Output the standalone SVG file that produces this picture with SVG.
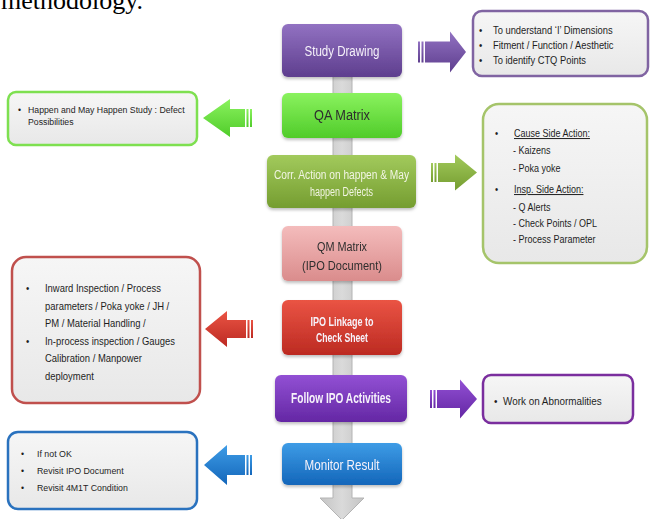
<svg xmlns="http://www.w3.org/2000/svg" width="651" height="519" viewBox="0 0 651 519">
<defs>
<linearGradient id="gPurple" x1="0" y1="0" x2="0" y2="1"><stop offset="0" stop-color="#9272C2"/><stop offset="1" stop-color="#5E3E8E"/></linearGradient>
<linearGradient id="gGreen" x1="0" y1="0" x2="0" y2="1"><stop offset="0" stop-color="#8AF25E"/><stop offset="1" stop-color="#50CC2A"/></linearGradient>
<linearGradient id="gOlive" x1="0" y1="0" x2="0" y2="1"><stop offset="0" stop-color="#A2CA5C"/><stop offset="1" stop-color="#759D30"/></linearGradient>
<linearGradient id="gPink" x1="0" y1="0" x2="0" y2="1"><stop offset="0" stop-color="#F4BCBC"/><stop offset="1" stop-color="#DA8C8C"/></linearGradient>
<linearGradient id="gRed" x1="0" y1="0" x2="0" y2="1"><stop offset="0" stop-color="#EA5444"/><stop offset="1" stop-color="#BC2A22"/></linearGradient>
<linearGradient id="gViolet" x1="0" y1="0" x2="0" y2="1"><stop offset="0" stop-color="#9250D4"/><stop offset="1" stop-color="#6427A4"/></linearGradient>
<linearGradient id="gBlue" x1="0" y1="0" x2="0" y2="1"><stop offset="0" stop-color="#3E9CE6"/><stop offset="1" stop-color="#1366BA"/></linearGradient>
<linearGradient id="gSide" x1="0" y1="0" x2="0" y2="1"><stop offset="0" stop-color="#F6F6F6"/><stop offset="1" stop-color="#E8E8E8"/></linearGradient>
<linearGradient id="gBar" x1="0" y1="0" x2="1" y2="0"><stop offset="0" stop-color="#C4C4C4"/><stop offset="0.5" stop-color="#DADADA"/><stop offset="1" stop-color="#C4C4C4"/></linearGradient>
<filter id="sh" x="-10%" y="-10%" width="120%" height="130%"><feDropShadow dx="0" dy="2" stdDeviation="1.5" flood-color="#000" flood-opacity="0.25"/></filter>
</defs>
<style>
.lbl{font-family:"Liberation Sans",Arial,sans-serif;font-size:14px;text-anchor:middle;fill:#F6F2FA}
.dk{fill:#2E2E2E}
.b{font-weight:bold}
.n{font-family:"Liberation Sans",Arial,sans-serif;fill:#1E1E1E}
.box{fill:url(#gSide);stroke-width:2.5}
.node{filter:url(#sh)}
.f1{font-size:10.4px}
.f2{font-size:9.7px}
.f3{font-size:10px}
.f4{font-size:10.5px}
.f5{font-size:11px}
.f6{font-size:9.8px}
</style>
<rect width="651" height="519" fill="#FFFFFF"/>
<text x="1" y="9" font-family="Liberation Serif, serif" font-size="26" fill="#000">methodology.</text>

<g id="connectors">
  <path d="M333,70 V498 H320 L342,520 L364,498 H352 V70 Z" fill="url(#gBar)" stroke="#B4B4B4" stroke-width="1"/>
  <g fill="url(#gPurple)">
    <rect x="418" y="41.5" width="2" height="21"/><rect x="421.5" y="41.5" width="2" height="21"/>
    <path d="M425,41.5 H450 V31.5 L466,52 L450,72.5 V62.5 H425 Z"/>
  </g>
  <g fill="url(#gGreen)">
    <rect x="250" y="109" width="2" height="18"/><rect x="246.5" y="109" width="2" height="18"/>
    <path d="M245,109 H230 V99 L203,118 L230,137 V127 H245 Z"/>
  </g>
  <g fill="url(#gOlive)">
    <rect x="431" y="163" width="2" height="19"/><rect x="434.5" y="163" width="2" height="19"/>
    <path d="M438,163 H455 V154.5 L477,172.5 L455,190.5 V182 H438 Z"/>
  </g>
  <g fill="url(#gRed)">
    <rect x="251" y="320" width="2" height="18"/><rect x="247.5" y="320" width="2" height="18"/>
    <path d="M246,320 H227 V311 L205,329 L227,347 V338 H246 Z"/>
  </g>
  <g fill="url(#gViolet)">
    <rect x="430" y="390" width="2" height="18"/><rect x="433.5" y="390" width="2" height="18"/>
    <path d="M437,390 H460 V379.5 L477,399 L460,418.5 V408 H437 Z"/>
  </g>
  <g fill="url(#gBlue)">
    <rect x="250" y="455" width="2" height="20"/><rect x="246.5" y="455" width="2" height="20"/>
    <path d="M245,455 H227 V445 L204,465 L227,485 V475 H245 Z"/>
  </g>
</g>

<g id="study-drawing" class="node">
  <rect x="282" y="24" width="120" height="53" rx="6" fill="url(#gPurple)"/>
  <text class="lbl" x="342" y="56" textLength="75" lengthAdjust="spacingAndGlyphs">Study Drawing</text>
</g>
<g id="qa-matrix" class="node">
  <rect x="282" y="93" width="120" height="45" rx="6" fill="url(#gGreen)"/>
  <text class="lbl dk" x="342" y="120" textLength="56" lengthAdjust="spacingAndGlyphs">QA Matrix</text>
</g>
<g id="corr-action" class="node">
  <rect x="267" y="155" width="149" height="53" rx="6" fill="url(#gOlive)"/>
  <text class="lbl" style="font-size:12px;fill:#F2F5E4" x="341.5" y="179" textLength="135" lengthAdjust="spacingAndGlyphs">Corr. Action on happen &amp; May</text>
  <text class="lbl" style="font-size:12px;fill:#F2F5E4" x="341.5" y="196" textLength="63" lengthAdjust="spacingAndGlyphs">happen Defects</text>
</g>
<g id="qm-matrix" class="node">
  <rect x="282" y="226" width="120" height="55" rx="6" fill="url(#gPink)"/>
  <text class="lbl dk" style="font-size:12.5px" x="342" y="251" textLength="50" lengthAdjust="spacingAndGlyphs">QM Matrix</text>
  <text class="lbl dk" style="font-size:12.5px" x="342" y="270" textLength="80" lengthAdjust="spacingAndGlyphs">(IPO Document)</text>
</g>
<g id="ipo-linkage" class="node">
  <rect x="282" y="300" width="120" height="55" rx="6" fill="url(#gRed)"/>
  <text class="lbl b" style="font-size:12px" x="342" y="326" textLength="63" lengthAdjust="spacingAndGlyphs">IPO Linkage to</text>
  <text class="lbl b" style="font-size:12px" x="342" y="342" textLength="52" lengthAdjust="spacingAndGlyphs">Check Sheet</text>
</g>
<g id="follow-ipo" class="node">
  <rect x="275" y="375" width="132" height="47" rx="6" fill="url(#gViolet)"/>
  <text class="lbl b" x="341" y="403" textLength="100" lengthAdjust="spacingAndGlyphs">Follow IPO Activities</text>
</g>
<g id="monitor-result" class="node">
  <rect x="282" y="443" width="120" height="42" rx="6" fill="url(#gBlue)"/>
  <text class="lbl" x="342" y="470" textLength="75" lengthAdjust="spacingAndGlyphs">Monitor Result</text>
</g>

<g id="note-study">
  <rect class="box" x="473" y="11" width="175" height="65" rx="9" stroke="#8064A2"/>
  <text class="n f1" transform="translate(479 34) scale(0.9 1)">•</text><text class="n f1" transform="translate(493 34) scale(0.9 1)">To understand ‘I’ Dimensions</text>
  <text class="n f1" transform="translate(479 49) scale(0.9 1)">•</text><text class="n f1" transform="translate(493 49) scale(0.9 1)">Fitment / Function / Aesthetic</text>
  <text class="n f1" transform="translate(479 64) scale(0.9 1)">•</text><text class="n f1" transform="translate(493 64) scale(0.9 1)">To identify CTQ Points</text>
</g>
<g id="note-qa">
  <rect class="box" x="8" y="92" width="189" height="53" rx="8" stroke="#7EE050"/>
  <text class="n f2" transform="translate(18 113) scale(0.9 1)">•</text><text class="n f2" transform="translate(28 113) scale(0.9 1)">Happen and May Happen Study : Defect</text>
  <text class="n f2" transform="translate(28 125) scale(0.9 1)">Possibilities</text>
</g>
<g id="note-corr">
  <rect class="box" x="483" y="104" width="164" height="159" rx="16" stroke="#A5C46A"/>
  <text class="n f3" transform="translate(495 137) scale(0.9 1)">•</text><text class="n f3" text-decoration="underline" transform="translate(514 137) scale(0.9 1)">Cause Side Action:</text>
  <text class="n f3" transform="translate(513 154) scale(0.9 1)">- Kaizens</text>
  <text class="n f3" transform="translate(513 172) scale(0.9 1)">- Poka yoke</text>
  <text class="n f3" transform="translate(495 193) scale(0.9 1)">•</text><text class="n f3" text-decoration="underline" transform="translate(514 193) scale(0.9 1)">Insp. Side Action:</text>
  <text class="n f3" transform="translate(513 211) scale(0.9 1)">- Q Alerts</text>
  <text class="n f3" transform="translate(513 227) scale(0.9 1)">- Check Points / OPL</text>
  <text class="n f3" transform="translate(513 243) scale(0.9 1)">- Process Parameter</text>
</g>
<g id="note-ipo">
  <rect class="box" x="12" y="257" width="188" height="146" rx="14" stroke="#C0504D"/>
  <text class="n f4" transform="translate(26 292) scale(0.9 1)">•</text><text class="n f4" transform="translate(45 292) scale(0.9 1)">Inward Inspection / Process</text>
  <text class="n f4" transform="translate(45 309.5) scale(0.9 1)">parameters / Poka yoke / JH /</text>
  <text class="n f4" transform="translate(45 327) scale(0.9 1)">PM / Material Handling /</text>
  <text class="n f4" transform="translate(26 344.5) scale(0.9 1)">•</text><text class="n f4" transform="translate(45 344.5) scale(0.9 1)">In-process inspection / Gauges</text>
  <text class="n f4" transform="translate(45 362) scale(0.9 1)">Calibration / Manpower</text>
  <text class="n f4" transform="translate(45 379.5) scale(0.9 1)">deployment</text>
</g>
<g id="note-follow">
  <rect class="box" x="483" y="375" width="150" height="48" rx="8" stroke="#7A2E9E"/>
  <text class="n f5" transform="translate(494 405) scale(0.9 1)">•</text><text class="n f5" transform="translate(503 405) scale(0.9 1)">Work on Abnormalities</text>
</g>
<g id="note-monitor">
  <rect class="box" x="8" y="432" width="189" height="77" rx="10" stroke="#2A72BE"/>
  <text class="n f6" transform="translate(21 457) scale(0.9 1)">•</text><text class="n f6" transform="translate(37 457) scale(0.9 1)">If not OK</text>
  <text class="n f6" transform="translate(21 474) scale(0.9 1)">•</text><text class="n f6" transform="translate(37 474) scale(0.9 1)">Revisit IPO Document</text>
  <text class="n f6" transform="translate(21 491) scale(0.9 1)">•</text><text class="n f6" transform="translate(37 491) scale(0.9 1)">Revisit 4M1T Condition</text>
</g>
</svg>
